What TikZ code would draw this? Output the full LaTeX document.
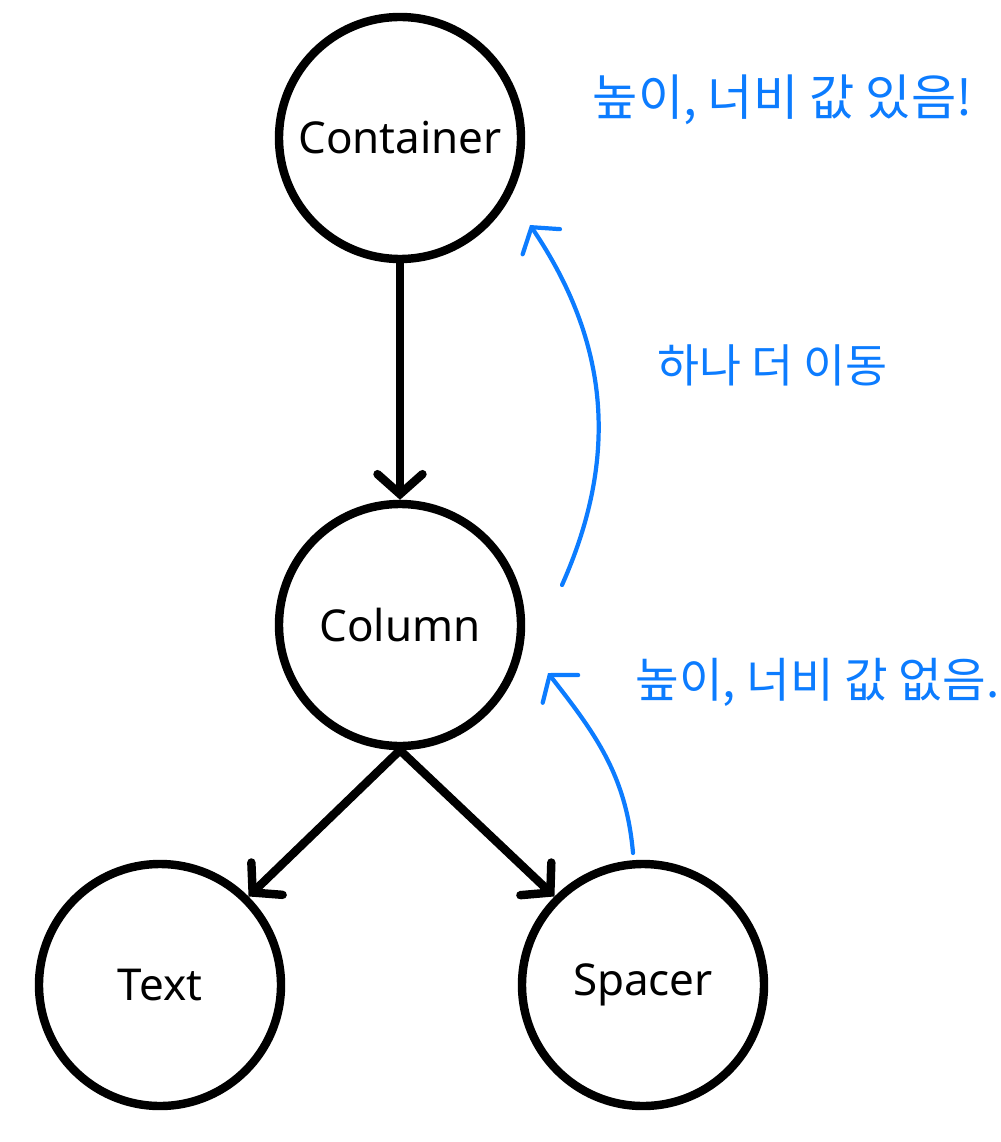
\documentclass[tikz,border=0pt]{standalone}
\usepackage{fontspec}
\setmainfont{Noto Sans}
\newfontfamily\kofont{Noto Sans CJK KR}
\usetikzlibrary{arrows.meta,positioning}

\definecolor{noteblue}{RGB}{12,124,255}

\begin{document}
\begin{tikzpicture}[-{Straight Barb[length=4mm,width=9mm,line cap=round]},
                    line width=4.8pt,line cap=round,on grid,
                    main node/.style={circle,draw,line width=4.8pt,minimum size=4.84cm,
                                      font=\fontsize{25}{28}\selectfont},
                    note/.style={text=noteblue,font=\kofont\fontsize{28}{32}\selectfont},
                    move/.style={draw=noteblue,line width=2.4pt,
                                 -{Straight Barb[length=3.5mm,width=9mm,line cap=round]}}]

  \useasboundingbox (0,0) rectangle (20,-22.84);

  \node[main node] (container) at (8,-2.76) {Container};
  \node[main node] (column) [below=9.74cm of container] {Column};
  \node[main node] (text) [below left=7.2cm and 4.8cm of column] {Text};
  \node[main node] (spacer) [below right=7.2cm and 4.86cm of column] {Spacer};

  \node[note] (hasSize) at (15.65,-2.0) {높이, 너비 값 있음!};
  \node[note,font=\kofont\fontsize{26}{30}\selectfont] (moveUp) at (15.45,-7.3) {하나 더 이동};
  \node[note,font=\kofont\fontsize{27}{30}\selectfont] (noSize) at (16.35,-13.65) {높이, 너비 값 없음.};

  \coordinate (moveStart) at (11.24,-11.7);
  \coordinate (moveEnd) at (10.6,-4.5);
  \coordinate (noStart) at (12.66,-17.06);
  \coordinate (noEnd) at (10.96,-13.46);

  \path
    (container) edge (column)
    (column.south) edge (text.45)
    (column.south) edge (spacer.135);

  \draw[move] (moveStart) to[out=66,in=-56] (moveEnd);
  \draw[move] (noStart) to[out=95,in=-52] (noEnd);
\end{tikzpicture}
\end{document}
